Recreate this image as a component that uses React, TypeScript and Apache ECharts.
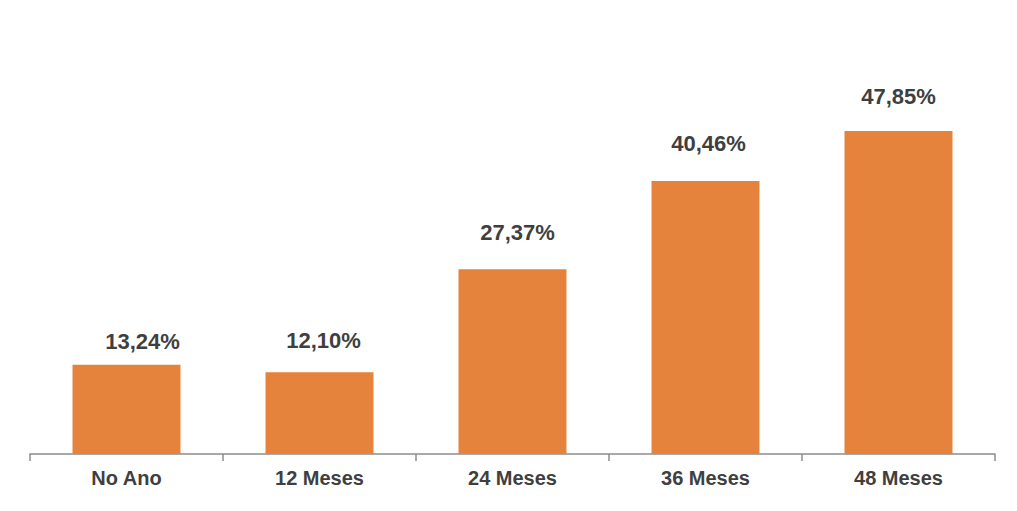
import React, { useEffect, useRef } from "react";
import * as echarts from "echarts";

const categories = ["No Ano", "12 Meses", "24 Meses", "36 Meses", "48 Meses"];
const values = [13.24, 12.1, 27.37, 40.46, 47.85];
const labelOffsetsX = [16, 4, 5, 3, 0];
const labelOffsetsY = [0, -9, -14, -14, -12];

export default function App() {
  const ref = useRef<HTMLDivElement>(null);
  useEffect(() => {
    const chart = echarts.init(ref.current!, null, { renderer: "svg" });
    chart.setOption({
      animation: false,
      backgroundColor: "#ffffff",
      grid: { left: 30, right: 22, top: 49, bottom: 57, containLabel: false },
      xAxis: {
        type: "category",
        data: categories,
        axisLine: { show: true, lineStyle: { color: "#8c8c8c", width: 1.5 } },
        axisTick: { show: true, length: 7, lineStyle: { color: "#8c8c8c", width: 1.5 } },
        axisLabel: {
          color: "#3f3f3f",
          fontSize: 20,
          fontWeight: "bold",
          fontFamily: "Liberation Sans, Arial, sans-serif",
          margin: 14,
        },
      },
      yAxis: {
        type: "value",
        min: 0,
        max: 60,
        show: false,
        splitLine: { show: false },
      },
      series: [
        {
          type: "bar",
          barWidth: 108,
          data: values.map((v, i) => ({
            value: v,
            label: { offset: [labelOffsetsX[i], labelOffsetsY[i]] },
          })),
          itemStyle: { color: "#E5833C" },
          label: {
            show: true,
            position: "top",
            distance: 12,
            color: "#3f3f3f",
            fontSize: 22,
            fontWeight: "bold",
            fontFamily: "Liberation Sans, Arial, sans-serif",
            formatter: (p: any) => p.value.toFixed(2).replace(".", ",") + "%",
          },
        },
      ],
    });
    return () => chart.dispose();
  }, []);
  return (
    <div
      ref={ref}
      style={{ position: "fixed", left: 0, top: 0, width: 1017, height: 511 }}
    />
  );
}
